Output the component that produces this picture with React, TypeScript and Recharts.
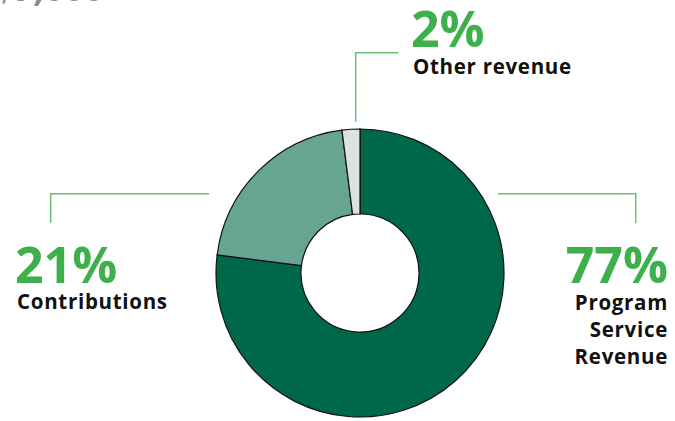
import React from "react";
import { PieChart, Pie, Cell } from "recharts";

const categories = ["Program Service Revenue", "Contributions", "Other revenue"];
const values = [77, 21, 2];
const colors = ["#00684A", "#66A591", "#DCE2DF"];
const labelLines = [["Program", "Service", "Revenue"], ["Contributions"], ["Other revenue"]];

const data = categories.map((name, i) => ({ name, value: values[i] }));
const total = values.reduce((a, b) => a + b, 0);

const GREEN = "#3DB04B";
const LEADER = "#6BBF6E";
const FONT = "'Open Sans', 'Noto Sans', sans-serif";

// callout layout per slice, relative to the chart box
const layout = [
  {
    line: "498,193.7 635.7,193.7 635.7,223.3",
    x: 668,
    anchor: "end",
    pctY: 283,
    textY: 310,
  },
  {
    line: "209,193.7 50.7,193.7 50.7,222.7",
    x: 15,
    anchor: "start",
    pctY: 283,
    textY: 309,
  },
  {
    line: "355.7,121.7 355.7,52.7 398.3,52.7",
    x: 411,
    anchor: "start",
    pctY: 47,
    textY: 74,
  },
];

const renderLabel = (props: any) => {
  const { index, value } = props;
  const l = layout[index];
  const pct = Math.round((value / total) * 100) + "%";
  return (
    <g key={`lbl-${index}`}>
      <polyline points={l.line} fill="none" stroke={LEADER} strokeWidth={1.5} />
      <text
        x={l.x}
        y={l.pctY}
        textAnchor={l.anchor}
        fill={GREEN}
        fontFamily={FONT}
        fontWeight={700}
        fontSize={50}
      >
        {pct}
      </text>
      {labelLines[index].map((t, j) => (
        <text
          key={j}
          x={l.x + (l.anchor === "start" ? 2 : 0)}
          y={l.textY + j * 27}
          textAnchor={l.anchor}
          fill="#111"
          fontFamily={FONT}
          fontWeight={700}
          fontSize={20.5}
          letterSpacing={0.7}
        >
          {t}
        </text>
      ))}
    </g>
  );
};

export default function App() {
  return (
    <div style={{ position: "absolute", left: 0, top: 0, width: 675, height: 421, background: "#fff" }}>
      <svg width={200} height={20} style={{ position: "absolute", left: 0, top: 0 }}>
        <text x={-4} y={1} fill="#8C8C8C" fontFamily={FONT} fontWeight={700} fontStyle="italic" fontSize={36}>
          $7,000
        </text>
      </svg>
      <PieChart width={675} height={421} margin={{ top: 0, right: 0, bottom: 0, left: 0 }}>
        <Pie
          data={data}
          dataKey="value"
          nameKey="name"
          cx={360}
          cy={273}
          outerRadius={144}
          innerRadius={59}
          startAngle={90}
          endAngle={-270}
          stroke="#111"
          strokeWidth={1.2}
          label={renderLabel}
          labelLine={false}
          isAnimationActive={false}
        >
          {data.map((d, i) => (
            <Cell key={d.name} fill={colors[i]} />
          ))}
        </Pie>
      </PieChart>
    </div>
  );
}
